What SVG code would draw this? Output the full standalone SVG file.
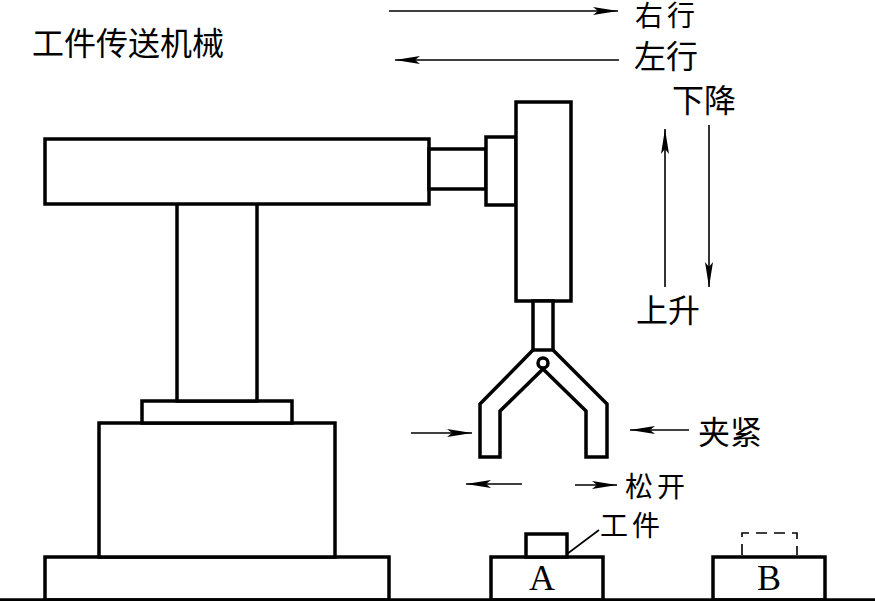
<svg xmlns="http://www.w3.org/2000/svg" width="875" height="601" viewBox="0 0 875 601">
<defs>
<marker id="arr" markerUnits="userSpaceOnUse" markerWidth="26" markerHeight="10" refX="25" refY="5" orient="auto"><path d="M0 1 L25 5 L0 9 L5 5 Z" fill="#000"/></marker>
</defs>
<style>
.s{fill:#fff;stroke:#000;stroke-width:3.5}
.n{fill:none;stroke:#000;stroke-width:3.5}
.c{fill:none;stroke:#000;stroke-width:1.6;marker-end:url(#arr)}
.t{font-family:"Noto Sans CJK SC","Liberation Serif",serif;font-size:32px;fill:#000}
.m{font-size:28px;letter-spacing:4px}
.l{font-family:"Liberation Serif",serif;font-size:36px;fill:#000;text-anchor:middle}
</style>
<rect width="875" height="601" fill="#fff"/>
<g id="title"><text class="t" x="32" y="55">工件传送机械</text></g>
<g id="robot-base">
<rect class="s" x="45" y="557" width="344" height="43"/>
<rect class="s" x="99" y="423" width="236" height="134"/>
<rect class="s" x="142" y="401" width="150" height="22"/>
</g>
<g id="column"><rect class="s" x="177" y="203" width="80" height="198"/></g>
<g id="arm">
<rect class="s" x="45" y="139" width="384" height="65"/>
<rect class="s" x="429" y="149" width="57" height="40"/>
<rect class="s" x="486" y="137" width="30" height="68"/>
</g>
<g id="carriage"><rect class="s" x="516" y="102" width="55" height="199"/></g>
<g id="gripper">
<rect class="s" x="533" y="301" width="20" height="49"/>
<path class="n" d="M533 350 L480 404 L480 457 L500 457 L500 411 L543 369 L586 411 L586 457 L607 457 L607 404 L553 350"/>
<circle class="s" cx="543" cy="363" r="5"/>
</g>
<g id="station-a">
<rect class="s" x="491" y="557" width="112" height="43"/>
<rect class="s" x="526" y="534" width="41" height="23"/>
<text class="l" x="542" y="590">A</text>
</g>
<g id="station-b">
<rect class="s" x="713" y="557" width="112" height="43"/>
<path d="M742 555 V533 H797 V555" fill="none" stroke="#000" stroke-width="1.6" stroke-dasharray="11 7"/>
<text class="l" x="769" y="590">B</text>
</g>
<g id="ground"><line x1="0" y1="600" x2="875" y2="600" stroke="#000" stroke-width="3.5"/></g>
<g id="connectors">
<line class="c" x1="389" y1="11" x2="618" y2="11"/>
<line class="c" x1="619" y1="60" x2="395" y2="60"/>
<line class="c" x1="709" y1="125" x2="709" y2="287"/>
<line class="c" x1="665" y1="287" x2="665" y2="129"/>
<line class="c" x1="411" y1="433" x2="472" y2="433"/>
<line class="c" x1="689" y1="430" x2="630" y2="430"/>
<line class="c" x1="522" y1="484" x2="466" y2="484"/>
<line class="c" x1="575" y1="485" x2="617" y2="485"/>
<line x1="567" y1="554" x2="599" y2="530" stroke="#000" stroke-width="1.6"/>
</g>
<g id="labels">
<text class="t m" x="635" y="26">右行</text>
<text class="t" x="634" y="68">左行</text>
<text class="t" x="672" y="112">下降</text>
<text class="t" x="636" y="322">上升</text>
<text class="t" x="698" y="444">夹紧</text>
<text class="t m" x="625" y="497">松开</text>
<text class="t m" x="600" y="536">工件</text>
</g>
</svg>
